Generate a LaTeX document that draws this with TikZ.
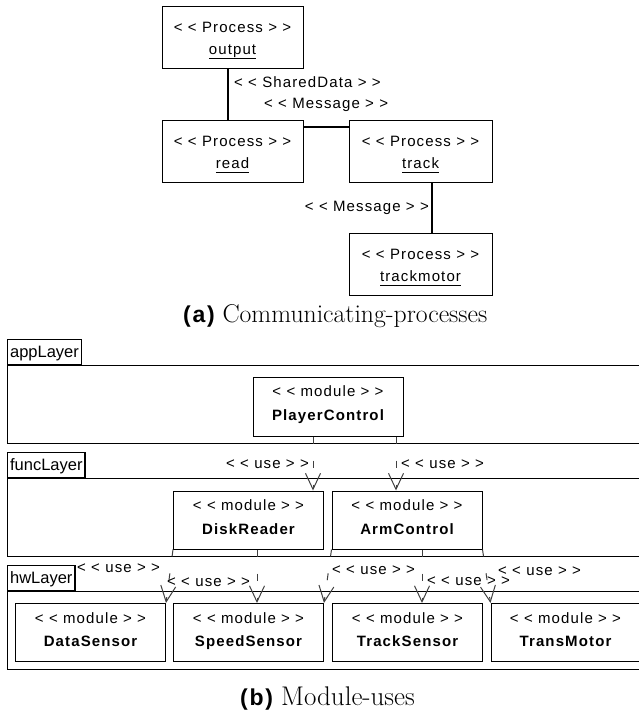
\documentclass[tikz,border=0pt]{standalone}
\usepackage{fontspec}
\usetikzlibrary{arrows.meta}
% spaced sans face used for the UML stereotypes and names
\newfontfamily\umlfont{Liberation Sans}[LetterSpace=7.5]
\newfontfamily\tabfont{Liberation Sans}
\newcommand\umlsize{\fontsize{15pt}{18pt}\selectfont}
\newcommand\uname[1]{\underline{#1\vphantom{(}}}
\newcommand\subfig[1]{{\umlfont\bfseries\fontsize{23pt}{26pt}\selectfont(#1)}}

\begin{document}
\begin{tikzpicture}[x=1pt, y=-1pt,
  box/.style={draw, line width=1pt, fill=white, inner sep=0pt},
  proc/.style={box, minimum width=141pt, minimum height=62pt},
  module/.style={box, minimum width=150pt, minimum height=58pt},
  stereo/.style={font=\umlfont\umlsize, inner sep=0pt, anchor=base},
  modname/.style={font=\umlfont\umlsize\bfseries, inner sep=0pt, anchor=base},
  link/.style={line width=2pt},
  uselbl/.style={font=\umlfont\umlsize, inner sep=0pt},
  use/.style={draw=black!75, line width=1pt, dash pattern=on 7pt off 17pt,
    -{Straight Barb[length=16pt, width=15pt, line width=1pt]}},
  tab/.style={draw, line width=1.2pt, fill=white, font=\tabfont\fontsize{16.5pt}{18pt}\selectfont,
    inner xsep=2.5pt, inner ysep=0pt, minimum height=25pt, text height=13pt, text depth=2pt, anchor=south west},
  layer/.style={draw, line width=1.2pt, minimum width=660pt, minimum height=78pt, inner sep=0pt, anchor=north west},
  caption/.style={font=\fontsize{25.7pt}{28pt}\selectfont, inner sep=0pt, anchor=base west}
]
\useasboundingbox (0,0) rectangle (639,710);

% ---------- (a) communicating processes ----------
\node[proc] (output) at (232.5,37) {};
\node[proc] (read) at (232.5,151) {};
\node[proc, minimum width=143pt] (track) at (420.5,151) {};
\node[proc, minimum width=143pt] (trackmotor) at (420.5,264) {};
\foreach \n/\t in {output/output, read/read, track/track, trackmotor/trackmotor}{
  \node[stereo] (\n-st) at ([yshift=-26.5pt]\n.north) {< < Process > >};
  \node[stereo] (\n-nm) at ([yshift=-48.5pt]\n.north) {\uname{\t}};
}

\draw[link] (output.south -| 228,0) -- (read.north -| 228,0);
\draw[link] (read.east |- 0,127) -- (track.west |- 0,127);
\draw[link] (track.south -| 432,0) -- (trackmotor.north -| 432,0);

\node[uselbl, anchor=west] (sd) at (234,82) {< < SharedData > >};
\node[uselbl, anchor=west] (msg1) at (264,105) {< < Message > >};
\node[uselbl, anchor=east] (msg2) at (429,208) {< < Message > >};

\node[caption] (capa) at (183,322) {\subfig{a} Communicating-processes};

% ---------- (b) module uses ----------
\node[layer] (app) at (7,365) {};
\node[tab] (app-tab) at (7,365) {appLayer};
\node[layer] (func) at (7,478) {};
\node[tab] (func-tab) at (7,478) {funcLayer};
\node[layer] (hw) at (7,591) {};
\node[tab] (hw-tab) at (7,591) {hwLayer};

\node[module, minimum height=59pt] (pc) at (328,406.5) {};
\node[module] (dr) at (248.5,520) {};
\node[module] (ac) at (407,520) {};
\node[module] (ds) at (90.5,632.5) {};
\node[module] (ss) at (248.5,632.5) {};
\node[module] (ts) at (407.5,632.5) {};
\node[module, minimum width=149pt] (tm) at (565.5,632.5) {};
\foreach \n/\t in {pc/PlayerControl, dr/DiskReader, ac/ArmControl, ds/DataSensor,
                   ss/SpeedSensor, ts/TrackSensor, tm/TransMotor}{
  \node[stereo] (\n-st) at ([yshift=-20pt]\n.north) {< < module > >};
  \node[modname] (\n-nm) at ([yshift=-43.5pt]\n.north) {\t};
}

\draw[use] (pc.south -| 313,0) -- (dr.north -| 313,0);
\draw[use] (pc.south -| 396,0) -- (ac.north -| 396,0);
\draw[use] (dr.south west) -- (ds.north east);
\draw[use] (dr.south -| 257,0) -- (ss.north -| 257,0);
\draw[use] (ac.south west) -- (ss.north east);
\draw[use] (ac.south -| 422,0) -- (ts.north -| 422,0);
\draw[use] (ac.south east) -- (tm.north west);

\node[uselbl, anchor=east] (u1) at (309,464) {< < use > >};
\node[uselbl, anchor=west] (u2) at (401,464) {< < use > >};
\node[uselbl, anchor=west] (u3) at (77,568) {< < use > >};
\node[uselbl, anchor=west] (u4) at (167,582) {< < use > >};
\node[uselbl, anchor=west] (u5) at (332,570) {< < use > >};
\node[uselbl, anchor=west] (u6) at (427,581) {< < use > >};
\node[uselbl, anchor=west] (u7) at (498,571) {< < use > >};

\node[caption, font=\fontsize{27pt}{30pt}\selectfont] (capb) at (240,705) {\subfig{b} Module-uses};
\end{tikzpicture}
\end{document}
